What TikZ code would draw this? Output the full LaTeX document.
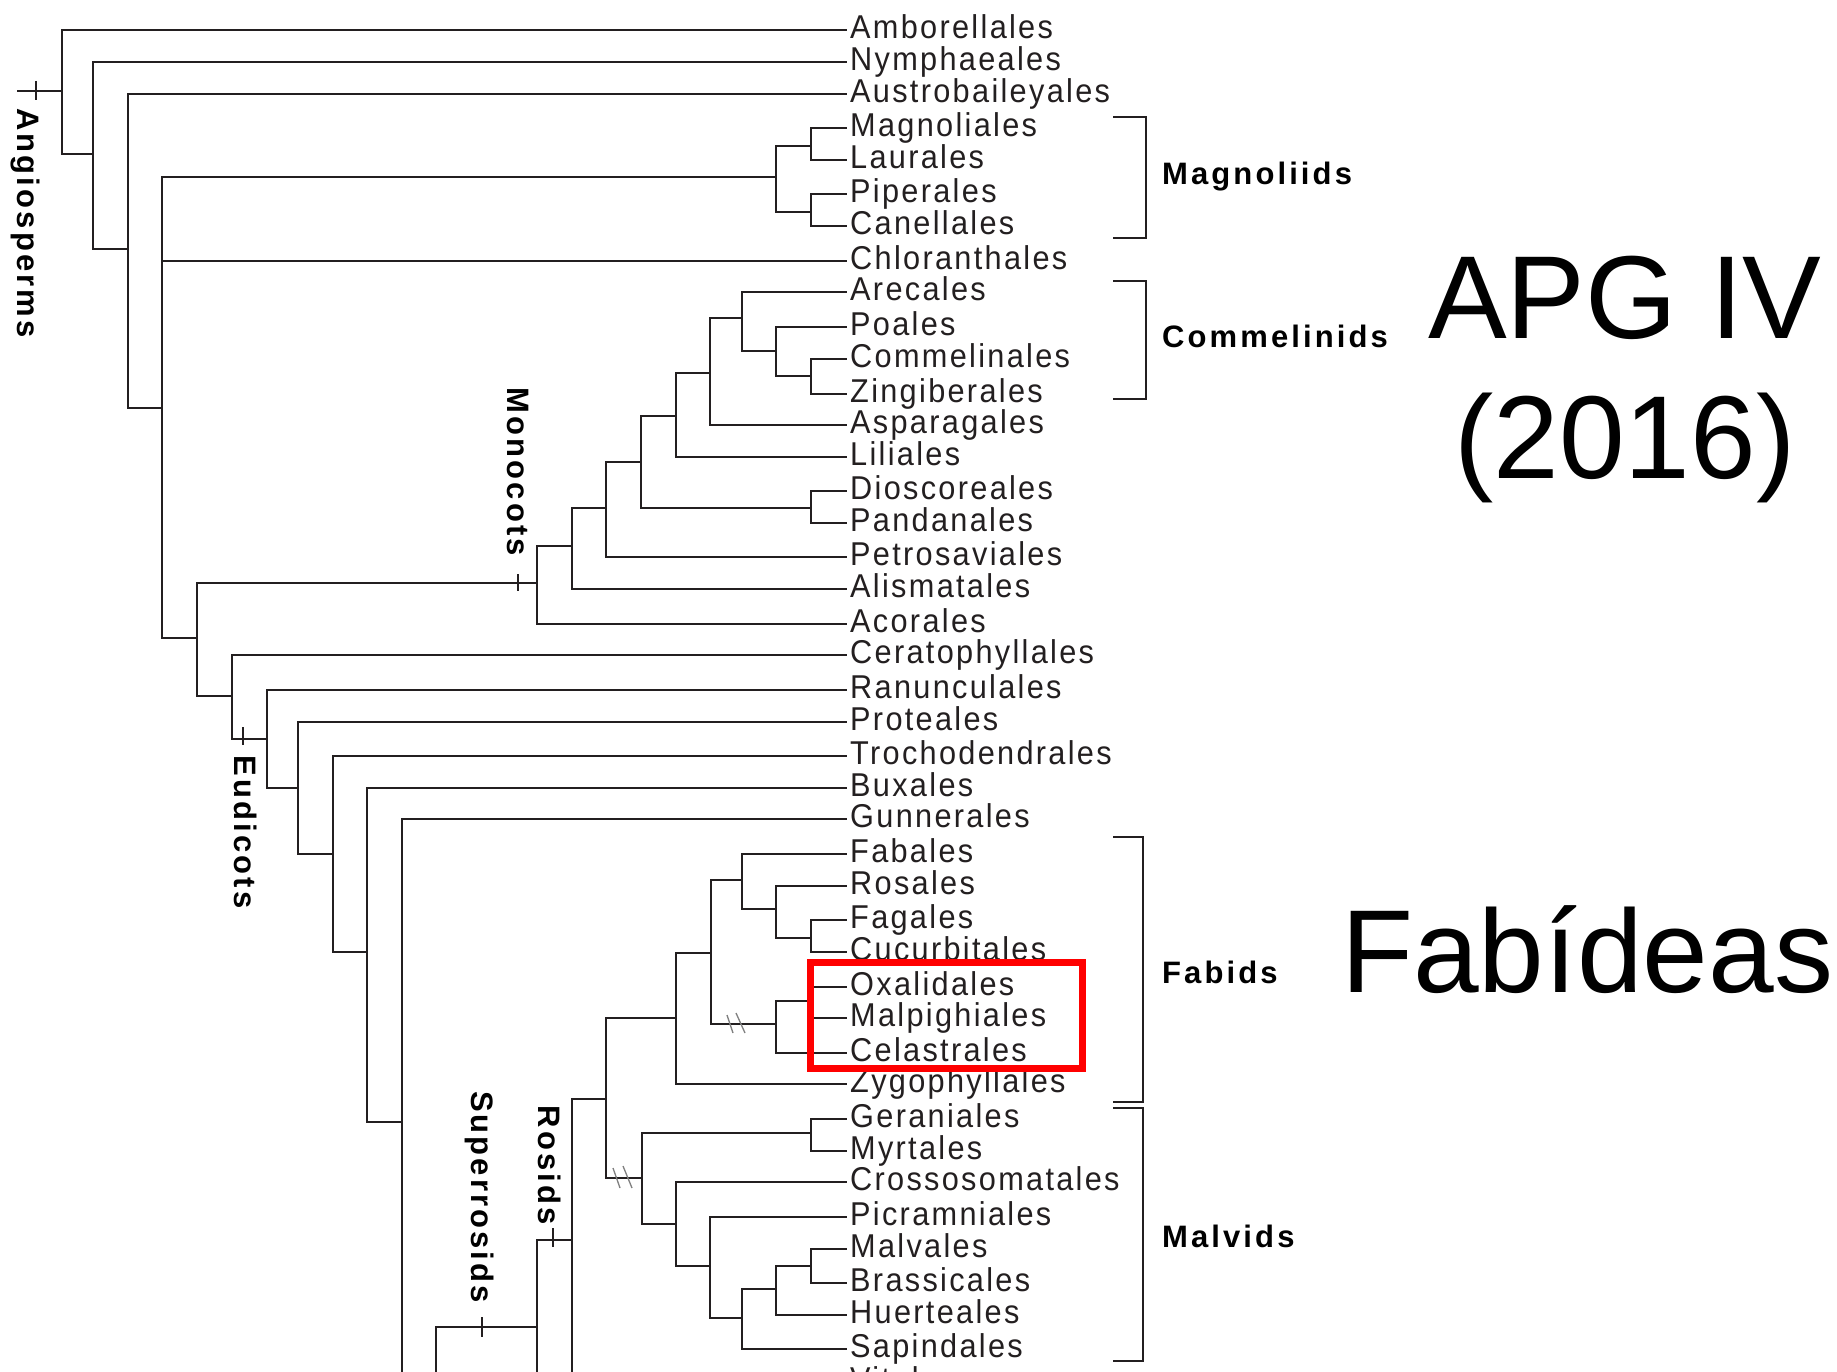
\documentclass[tikz,border=0pt]{standalone}
\usepackage{fontspec}
\setmainfont{Liberation Sans}
\newfontfamily\taxfont{Liberation Sans}[FakeStretch=0.93,LetterSpace=7]
\newfontfamily\cladefont{Liberation Sans}[LetterSpace=10]
\definecolor{ink}{HTML}{231F20}
\definecolor{boxred}{HTML}{FF0000}
\newcommand\mkleaf[3]{\coordinate (#1) at (847,#2); \node[taxon] (#1t) at (850,#2) {#3};}
\begin{document}
\begin{tikzpicture}[x=1pt,y=-1pt,
  branch/.style={draw=ink,line width=2.6pt},
  tickmark/.style={draw=ink,line width=1.5pt},
  brk/.style={draw=ink,line width=2.6pt},
  taxon/.style={anchor=base west,inner sep=0pt,yshift=-8.5pt,text=ink,font=\taxfont\fontsize{33}{33}\selectfont},
  clade/.style={anchor=base west,inner sep=0pt,text=black,font=\cladefont\bfseries\fontsize{31}{31}\selectfont},
  vclade/.style={rotate=-90,anchor=base,inner sep=0pt,text=black,font=\cladefont\bfseries\fontsize{31}{31}\selectfont},
  title/.style={inner sep=0pt,text=black,font=\fontsize{118}{118}\selectfont},
  slash/.style={draw=gray,line width=1.3pt},
  hilite/.style={draw=boxred,line width=7pt}
]
\clip (0,0) rectangle (1837,1372);
\fill[white] (0,0) rectangle (1837,1372);

% leaves
\mkleaf{Amb}{30}{Amborellales}
\mkleaf{Nym}{62}{Nymphaeales}
\mkleaf{Aus}{94}{Austrobaileyales}
\mkleaf{Mag}{128}{Magnoliales}
\mkleaf{Lau}{160}{Laurales}
\mkleaf{Pip}{194}{Piperales}
\mkleaf{Can}{226}{Canellales}
\mkleaf{Chl}{261}{Chloranthales}
\mkleaf{Are}{292}{Arecales}
\mkleaf{Poa}{327}{Poales}
\mkleaf{Com}{359}{Commelinales}
\mkleaf{Zin}{394}{Zingiberales}
\mkleaf{Asp}{425}{Asparagales}
\mkleaf{Lil}{457}{Liliales}
\mkleaf{Dio}{491}{Dioscoreales}
\mkleaf{Pan}{523}{Pandanales}
\mkleaf{Pet}{557}{Petrosaviales}
\mkleaf{Ali}{589}{Alismatales}
\mkleaf{Aco}{624}{Acorales}
\mkleaf{Cer}{655}{Ceratophyllales}
\mkleaf{Ran}{690}{Ranunculales}
\mkleaf{Pro}{722}{Proteales}
\mkleaf{Tro}{756}{Trochodendrales}
\mkleaf{Bux}{788}{Buxales}
\mkleaf{Gun}{819}{Gunnerales}
\mkleaf{Fab}{854}{Fabales}
\mkleaf{Ros}{886}{Rosales}
\mkleaf{Fag}{920}{Fagales}
\mkleaf{Cuc}{952}{Cucurbitales}
\mkleaf{Oxa}{987}{Oxalidales}
\mkleaf{Mal}{1018}{Malpighiales}
\mkleaf{Cel}{1053}{Celastrales}
\mkleaf{Zyg}{1084}{Zygophyllales}
\mkleaf{Ger}{1119}{Geraniales}
\mkleaf{Myr}{1151}{Myrtales}
\mkleaf{Cro}{1182}{Crossosomatales}
\mkleaf{Pic}{1217}{Picramniales}
\mkleaf{Mav}{1249}{Malvales}
\mkleaf{Bra}{1283}{Brassicales}
\mkleaf{Hue}{1315}{Huerteales}
\mkleaf{Sap}{1349}{Sapindales}
\mkleaf{Vit}{1382}{Vitales}

% internal nodes
\coordinate (root0) at (17,91);
\coordinate (root) at (62,91);
\coordinate (n1) at (93,154);
\coordinate (n2) at (128,249);
\coordinate (n3) at (162,408);
\coordinate (m0) at (776,177);
\coordinate (m1) at (811,146);
\coordinate (m2) at (811,212);
\coordinate (n4) at (197,638);
\coordinate (mono) at (537,583);
\coordinate (k1) at (572,546);
\coordinate (k2) at (606,508);
\coordinate (k3) at (641,462);
\coordinate (dp) at (811,508);
\coordinate (k4) at (676,416);
\coordinate (k5) at (710,373);
\coordinate (c0) at (742,318);
\coordinate (c1) at (776,351);
\coordinate (c2) at (811,376);
\coordinate (n5) at (232,696);
\coordinate (n6) at (267,739);
\coordinate (n7) at (298,788);
\coordinate (n8) at (333,854);
\coordinate (n9) at (367,952);
\coordinate (n10) at (402,1122);
\coordinate (n10d) at (402,1420);
\coordinate (s0) at (436,1420);
\coordinate (sr) at (537,1327);
\coordinate (srd) at (537,1420);
\coordinate (rs) at (572,1240);
\coordinate (ro) at (606,1099);
\coordinate (fa) at (676,1018);
\coordinate (f1) at (711,953);
\coordinate (f2) at (742,880);
\coordinate (f3) at (776,909);
\coordinate (f4) at (811,938);
\coordinate (f5) at (776,1024);
\coordinate (f6) at (811,1001);
\coordinate (mv) at (642,1178);
\coordinate (g1) at (811,1133);
\coordinate (g2) at (676,1224);
\coordinate (g3) at (710,1266);
\coordinate (g4) at (742,1318);
\coordinate (g5) at (776,1289);
\coordinate (g6) at (811,1266);

% branches
\draw[branch] (root0) -- (root);
\foreach \p/\c in {root/Amb, root/n1, n1/Nym, n1/n2, n2/Aus, n2/n3, n3/m0, n3/Chl, n3/n4,
  m0/m1, m0/m2, m1/Mag, m1/Lau, m2/Pip, m2/Can,
  n4/mono, n4/n5, mono/k1, mono/Aco, k1/k2, k1/Ali, k2/k3, k2/Pet, k3/k4, k3/dp, dp/Dio, dp/Pan,
  k4/k5, k4/Lil, k5/c0, k5/Asp, c0/Are, c0/c1, c1/Poa, c1/c2, c2/Com, c2/Zin,
  n5/Cer, n5/n6, n6/Ran, n6/n7, n7/Pro, n7/n8, n8/Tro, n8/n9, n9/Bux, n9/n10, n10/Gun, n10/n10d,
  s0/sr, sr/rs, sr/srd, rs/ro, rs/Vit,
  ro/fa, ro/mv, fa/f1, fa/Zyg, f1/f2, f1/f5, f2/Fab, f2/f3, f3/Ros, f3/f4, f4/Fag, f4/Cuc,
  f5/f6, f5/Cel, f6/Oxa, f6/Mal,
  mv/g1, mv/g2, g1/Ger, g1/Myr, g2/Cro, g2/g3, g3/Pic, g3/g4, g4/g5, g4/Sap, g5/g6, g5/Hue, g6/Mav, g6/Bra}
  \draw[branch] (\p) |- (\c);

% ticks on stems
\draw[tickmark] (36,81) -- (36,100);
\draw[tickmark] (518,574) -- (518,591);
\draw[tickmark] (243,727) -- (243,745);
\draw[tickmark] (482,1317) -- (482,1337);
\draw[tickmark] (553,1228) -- (553,1247);

% break marks
\draw[slash] (727,1015) -- (733,1033);
\draw[slash] (736,1013) -- (745,1033);
\draw[slash] (613,1168) -- (620,1188);
\draw[slash] (623,1166) -- (632,1188);

% vertical clade labels
\node[vclade] (angio) at (17,223) {Angiosperms};
\node[vclade] (monoc) at (507,472) {Monocots};
\node[vclade] (eudic) at (234,832) {Eudicots};
\node[vclade] (super) at (471,1197) {Superrosids};
\node[vclade] (rosid) at (538,1165) {Rosids};

% brackets
\draw[brk] (1113,117) -| (1146,238) -- (1113,238);
\draw[brk] (1113,281) -| (1146,399) -- (1113,399);
\draw[brk] (1113,837) -| (1143,1102) -- (1113,1102);
\draw[brk] (1113,1108) -| (1143,1361) -- (1113,1361);

\node[clade] (magn) at (1162,185) {Magnoliids};
\node[clade] (comm) at (1162,348) {Commelinids};
\node[clade] (fabd) at (1162,983) {Fabids};
\node[clade] (malv) at (1162,1247) {Malvids};

% titles
\node[title,anchor=base] (apg) at (1625,338) {APG IV};
\node[title,anchor=base] (year) at (1625,478) {(2016)};
\node[title,anchor=base west] (fabi) at (1341,992) {Fabídeas};

% highlight box
\draw[hilite] (810.5,962.5) rectangle (1082.5,1068.5);
\end{tikzpicture}
\end{document}
